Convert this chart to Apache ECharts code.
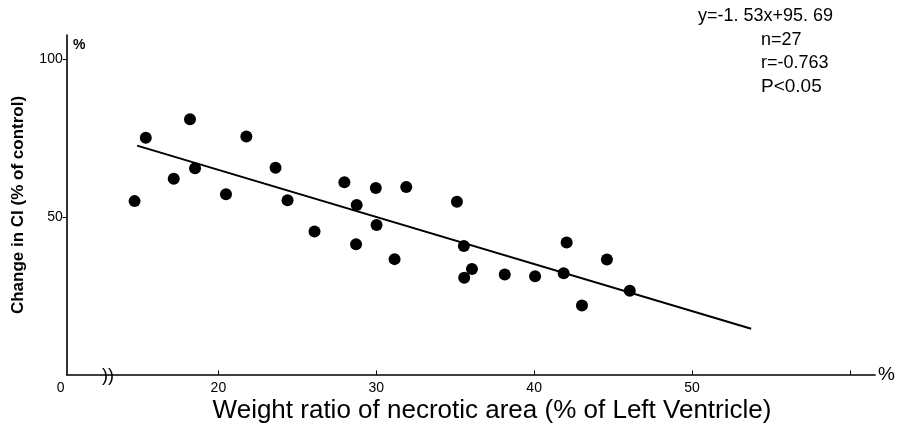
<!DOCTYPE html>
<html>
<head>
<meta charset="utf-8">
<script src="https://cdn.jsdelivr.net/npm/echarts@6/dist/echarts.min.js"></script>
<style>
html,body{margin:0;padding:0;background:#fff;}
#chart{width:898px;height:436px;}
</style>
</head>
<body>
<div id="chart"></div>
<script>
// Data
var pointsX = [14.69, 15.40, 17.17, 18.20, 18.52, 20.48, 21.77, 23.62, 24.38, 26.09, 27.98, 28.76, 28.72, 29.97, 30.02, 31.16, 31.90, 35.11, 35.55, 35.57, 36.06, 38.14, 40.06, 41.87, 42.06, 43.03, 44.61, 46.06];
var pointsY = [55.0, 75.1, 62.1, 81.0, 65.4, 57.2, 75.5, 65.6, 55.3, 45.4, 61.0, 53.8, 41.3, 59.2, 47.4, 36.6, 59.5, 54.8, 40.8, 30.7, 33.5, 31.7, 31.2, 32.1, 41.9, 21.9, 36.5, 26.6];
var lineX = [14.85, 53.75];
var lineY = [72.6, 14.5];
var xTickValues = [20, 30, 40, 50, 60];
var xLabelValues = [10.39, 20, 30, 40, 50];
var yTickValues = [50, 100];
var statsLines = ['y=-1. 53x+95. 69', 'n=27', 'r=-0.763', 'P<0.05'];
var xTitle = 'Weight ratio of necrotic area (% of Left Ventricle)';
var yTitle = 'Change in CI (% of control)';

var scatterData = pointsX.map(function (x, i) { return [x, pointsY[i]]; });
var lineData = lineX.map(function (x, i) { return [x, lineY[i]]; });

var FONT = '"Liberation Sans", Arial, sans-serif';
var chart = echarts.init(document.getElementById('chart'));
chart.setOption({
  animation: false,
  backgroundColor: '#fff',
  grid: { left: 66.7, right: 21.2, top: 35, bottom: 61.5 },
  xAxis: {
    type: 'value',
    min: 10.39,
    max: 61.6,
    name: '%',
    nameLocation: 'end',
    nameGap: 3,
    nameTextStyle: { color: '#000', fontSize: 19, fontFamily: FONT, verticalAlign: 'middle' },
    axisLine: { lineStyle: { color: '#000', width: 1.6 } },
    axisTick: { show: true, inside: true, length: 4, customValues: xTickValues, lineStyle: { color: '#000' } },
    axisLabel: {
      customValues: xLabelValues,
      color: '#000', fontSize: 14, fontFamily: FONT, margin: 7,
      formatter: function (v) { return v < 15 ? '{z|0}' : String(v); },
      rich: { z: { fontSize: 14, fontFamily: FONT, color: '#000', padding: [0, 12, 0, 0] } }
    },
    splitLine: { show: false }
  },
  yAxis: {
    type: 'value',
    min: 0,
    max: 107.7,
    axisLine: { show: true, lineStyle: { color: '#000', width: 1.6 } },
    axisTick: { show: true, inside: false, length: 4, customValues: yTickValues, lineStyle: { color: '#000' } },
    axisLabel: { customValues: yTickValues, color: '#000', fontSize: 14, fontFamily: FONT, margin: 4 },
    splitLine: { show: false }
  },
  series: [
    {
      type: 'scatter',
      data: scatterData,
      symbol: 'circle',
      symbolSize: 12,
      itemStyle: { color: '#000', opacity: 1 },
      z: 3
    },
    {
      type: 'line',
      data: lineData,
      showSymbol: false,
      symbol: 'none',
      lineStyle: { color: '#000', width: 2 },
      z: 2
    }
  ],
  graphic: [
    { type: 'text', left: 73, top: 38, style: { text: '%', fontSize: 14, fontWeight: 'bold', fontFamily: FONT, fill: '#000' } },
    { type: 'text', x: 492, y: 411, style: { text: xTitle, fontSize: 26, fontFamily: FONT, fill: '#000', align: 'center', verticalAlign: 'middle' } },
    { type: 'text', x: 18, y: 205, rotation: Math.PI / 2, style: { text: yTitle, fontSize: 17, fontWeight: 'bold', fontFamily: FONT, fill: '#000', align: 'center', verticalAlign: 'middle' } },
    { type: 'text', x: 698, y: 16, style: { text: statsLines[0], fontSize: 18, fontFamily: FONT, fill: '#000', verticalAlign: 'middle' } },
    { type: 'text', x: 761, y: 40, style: { text: statsLines[1], fontSize: 18, fontFamily: FONT, fill: '#000', verticalAlign: 'middle' } },
    { type: 'text', x: 761, y: 63, style: { text: statsLines[2], fontSize: 18, fontFamily: FONT, fill: '#000', verticalAlign: 'middle' } },
    { type: 'text', x: 761, y: 87, style: { text: statsLines[3], fontSize: 19, fontFamily: FONT, fill: '#000', verticalAlign: 'middle' } },
    { type: 'text', x: 108, y: 376, style: { text: '))', fontSize: 18, fontFamily: FONT, fill: '#000', align: 'center', verticalAlign: 'middle' } }
  ]
});
</script>
</body>
</html>
